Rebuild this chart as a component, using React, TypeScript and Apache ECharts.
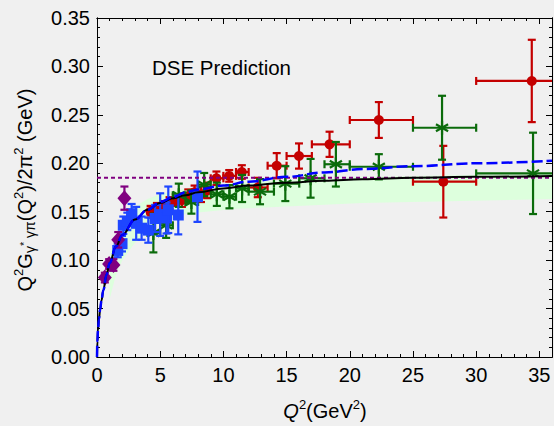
import React, { useEffect, useRef } from "react";
import * as echarts from "echarts";

const FONT = "'Liberation Sans', Arial, Helvetica, sans-serif";

// Axis ranges / ticks
const xMin = 0, xMax = 36, xMajor = 5, xMinor = 1;
const yMin = 0, yMax = 0.35, yMajor = 0.05, yMinor = 0.01;

// DSE prediction (black solid)
const dseQ2 = [0, 0.03, 0.08, 0.15, 0.25, 0.35, 0.5, 0.75, 1, 1.5, 2, 3, 4, 5, 6, 7, 8, 10, 12, 15, 18, 21, 25, 30, 36];
const dseVal = [0, 0.016, 0.028, 0.039, 0.049, 0.058, 0.069, 0.085, 0.097, 0.114, 0.126, 0.142, 0.152, 0.159, 0.164, 0.167, 0.170, 0.174, 0.177, 0.180, 0.182, 0.1835, 0.185, 0.186, 0.187];

// Alternative curve (blue dashed)
const altQ2 = [0, 0.03, 0.08, 0.15, 0.25, 0.35, 0.5, 0.75, 1, 1.5, 2, 3, 4, 5, 6, 7, 8, 10, 12, 15, 18, 21, 25, 30, 36];
const altVal = [0, 0.016, 0.028, 0.039, 0.049, 0.058, 0.069, 0.085, 0.097, 0.114, 0.126, 0.142, 0.152, 0.160, 0.165, 0.170, 0.173, 0.177, 0.181, 0.186, 0.1905, 0.194, 0.197, 0.200, 0.2027];

// Asymptotic limit (purple dotted)
const limitQ2 = [0, 36];
const limitVal = [0.185, 0.185];

// Light green band
const bandQ2 = [1.0, 1.5, 2, 3, 4, 5, 7, 11, 21, 36];
const bandLow = [0.060, 0.085, 0.100, 0.118, 0.130, 0.138, 0.148, 0.153, 0.159, 0.163];
const bandHigh = [0.105, 0.125, 0.140, 0.155, 0.163, 0.168, 0.174, 0.180, 0.186, 0.189];

// CELLO (purple diamonds)
const celloQ2 = [0.62, 0.96, 1.30, 1.68, 2.17];
const celloVal = [0.082, 0.096, 0.095, 0.121, 0.164];
const celloErr = [0.005, 0.005, 0.006, 0.008, 0.012];

// CLEO (blue squares)
const cleoQ2 = [1.64, 1.98, 2.08, 2.40, 2.74, 3.10, 3.53, 4.06, 4.60, 5.00, 5.50, 5.64, 6.43, 7.95];
const cleoVal = [0.110, 0.117, 0.136, 0.140, 0.148, 0.138, 0.133, 0.131, 0.143, 0.147, 0.1435, 0.152, 0.1466, 0.1655];
const cleoErr = [0.007, 0.008, 0.009, 0.009, 0.010, 0.017, 0.012, 0.013, 0.014, 0.022, 0.016, 0.024, 0.020, 0.026];

// BaBar (red circles)
const babarQ2 = [4.24, 4.74, 5.23, 5.74, 6.23, 6.72, 7.22, 7.72, 8.23, 8.72, 9.45, 10.46, 11.46, 12.72, 14.22, 15.98, 18.40, 22.30, 27.40, 34.40];
const babarVal = [0.150, 0.153, 0.155, 0.159, 0.162, 0.162, 0.166, 0.170, 0.168, 0.172, 0.1845, 0.187, 0.191, 0.175, 0.1975, 0.2075, 0.2196, 0.2447, 0.181, 0.285];
const babarQ2Lo = [4.0, 4.5, 5.0, 5.5, 6.0, 6.5, 7.0, 7.5, 8.0, 8.5, 9, 10, 11, 12, 13.5, 15, 17, 20, 25, 30];
const babarQ2Hi = [4.5, 5.0, 5.5, 6.0, 6.5, 7.0, 7.5, 8.0, 8.5, 9.0, 10, 11, 12, 13.5, 15, 17, 20, 25, 30, 40];
const babarErr = [0.006, 0.006, 0.006, 0.006, 0.006, 0.007, 0.007, 0.007, 0.008, 0.008, 0.007, 0.006, 0.007, 0.010, 0.013, 0.013, 0.013, 0.0185, 0.037, 0.0425];

// Belle (green stars)
const belleQ2 = [4.46, 5.47, 6.47, 7.47, 8.48, 9.48, 10.48, 11.48, 12.9, 14.9, 16.9, 18.9, 22.3, 27.3, 34.5];
const belleVal = [0.128, 0.136, 0.167, 0.160, 0.178, 0.168, 0.1655, 0.174, 0.1707, 0.179, 0.1845, 0.199, 0.1964, 0.2367, 0.1896];
const belleQ2Lo = [4, 5, 6, 7, 8, 9, 10, 11, 12, 14, 16, 18, 20, 25, 30];
const belleQ2Hi = [5, 6, 7, 8, 9, 10, 11, 12, 14, 16, 18, 20, 25, 30, 40];
const belleErr = [0.020, 0.013, 0.012, 0.012, 0.012, 0.012, 0.012, 0.014, 0.013, 0.018, 0.020, 0.023, 0.013, 0.033, 0.042];

const RED = "#c40000";
const GREEN = "#0b6b0b";
const BLUE = "#1e46ff";
const PURPLE = "#800080";

type Marker = "circle" | "square" | "diamond" | "star";

function errSeries(
  name: string,
  xs: number[],
  ys: number[],
  xlo: number[] | null,
  xhi: number[] | null,
  errs: number[],
  color: string,
  marker: Marker,
  z: number
) {
  const data = xs.map((x, i) => [
    x,
    ys[i],
    xlo ? xlo[i] : x,
    xhi ? xhi[i] : x,
    ys[i] - errs[i],
    ys[i] + errs[i],
  ]);
  return {
    type: "custom",
    name,
    data,
    clip: true,
    z,
    xAxisIndex: 0,
    yAxisIndex: 0,
    encode: { x: 0, y: 1 },
    renderItem: (params: any, api: any) => {
      const x = api.value(0);
      const y = api.value(1);
      const c = api.coord([x, y]);
      const l = api.coord([api.value(2), y]);
      const r = api.coord([api.value(3), y]);
      const b = api.coord([x, api.value(4)]);
      const t = api.coord([x, api.value(5)]);
      const st = { stroke: color, lineWidth: 2.2, fill: "none" };
      const cap = 4;
      const children: any[] = [];
      children.push({ type: "line", shape: { x1: c[0], y1: b[1], x2: c[0], y2: t[1] }, style: st });
      children.push({ type: "line", shape: { x1: c[0] - cap, y1: b[1], x2: c[0] + cap, y2: b[1] }, style: st });
      children.push({ type: "line", shape: { x1: c[0] - cap, y1: t[1], x2: c[0] + cap, y2: t[1] }, style: st });
      if (r[0] - l[0] > 1) {
        children.push({ type: "line", shape: { x1: l[0], y1: c[1], x2: r[0], y2: c[1] }, style: st });
        children.push({ type: "line", shape: { x1: l[0], y1: c[1] - cap, x2: l[0], y2: c[1] + cap }, style: st });
        children.push({ type: "line", shape: { x1: r[0], y1: c[1] - cap, x2: r[0], y2: c[1] + cap }, style: st });
      }
      if (marker === "circle") {
        children.push({ type: "circle", shape: { cx: c[0], cy: c[1], r: 5 }, style: { fill: color } });
      } else if (marker === "square") {
        children.push({ type: "rect", shape: { x: c[0] - 5.5, y: c[1] - 5.5, width: 11, height: 11 }, style: { fill: color } });
      } else if (marker === "diamond") {
        children.push({
          type: "polygon",
          shape: { points: [[c[0], c[1] - 8], [c[0] + 7, c[1]], [c[0], c[1] + 8], [c[0] - 7, c[1]]] },
          style: { fill: color },
        });
      } else {
        const a = 7;
        const angs = [Math.PI / 2, Math.PI / 6, -Math.PI / 6];
        angs.forEach((ang) => {
          const dx = Math.cos(ang) * a;
          const dy = Math.sin(ang) * a;
          children.push({
            type: "line",
            shape: { x1: c[0] - dx, y1: c[1] - dy, x2: c[0] + dx, y2: c[1] + dy },
            style: { stroke: color, lineWidth: 2.2 },
          });
        });
      }
      return { type: "group", children };
    },
  };
}

function makeAxis(kind: "x" | "y", position: string, interval: number, tickLen: number, showLabel: boolean) {
  const isX = kind === "x";
  return {
    type: "value",
    min: isX ? xMin : yMin,
    max: isX ? xMax : yMax,
    interval,
    position,
    axisLine: { show: true, onZero: false, lineStyle: { color: "#000", width: 1 } },
    axisTick: { show: true, inside: true, length: tickLen, lineStyle: { color: "#000", width: 1 } },
    axisLabel: {
      show: showLabel,
      margin: isX ? 8 : 7,
      color: "#000",
      fontSize: 20,
      fontFamily: FONT,
      formatter: isX
        ? (v: number) => (Math.abs(v % 5) < 1e-9 ? String(v) : "")
        : (v: number) => v.toFixed(2),
    },
    splitLine: { show: false },
    minorTick: { show: false },
  };
}

const tok = (size: number, extra: any = {}) => ({
  fontSize: size,
  fontFamily: FONT,
  fill: "#000",
  color: "#000",
  verticalAlign: "middle",
  lineHeight: 30,
  ...extra,
});

export default function App() {
  const ref = useRef<HTMLDivElement>(null);
  useEffect(() => {
    if (!ref.current) return;
    const chart = echarts.init(ref.current, undefined, { renderer: "svg" });
    const option: any = {
      animation: false,
      backgroundColor: "#f0f0f0",
      grid: { left: 97, right: 2, top: 18, bottom: 69, containLabel: false, outerBoundsMode: "none" },
      xAxis: [
        makeAxis("x", "bottom", xMajor, 6, true),
        makeAxis("x", "bottom", xMinor, 3, false),
        makeAxis("x", "top", xMajor, 6, false),
        makeAxis("x", "top", xMinor, 3, false),
      ],
      yAxis: [
        makeAxis("y", "left", yMajor, 6, true),
        makeAxis("y", "left", yMinor, 3, false),
        makeAxis("y", "right", yMajor, 6, false),
        makeAxis("y", "right", yMinor, 3, false),
      ],
      series: [
        {
          type: "custom",
          name: "band",
          z: 1,
          xAxisIndex: 0,
          yAxisIndex: 0,
          data: [[bandQ2[0], bandLow[0]]],
          encode: { x: 0, y: 1 },
          renderItem: (params: any, api: any) => {
            const pts: number[][] = [];
            bandQ2.forEach((x, i) => pts.push(api.coord([x, bandHigh[i]])));
            for (let i = bandQ2.length - 1; i >= 0; i--) pts.push(api.coord([bandQ2[i], bandLow[i]]));
            return { type: "polygon", shape: { points: pts }, style: { fill: "#ddffdd" } };
          },
        },
        errSeries("BaBar", babarQ2, babarVal, babarQ2Lo, babarQ2Hi, babarErr, RED, "circle", 2),
        errSeries("Belle", belleQ2, belleVal, belleQ2Lo, belleQ2Hi, belleErr, GREEN, "star", 3),
        errSeries("CLEO", cleoQ2, cleoVal, null, null, cleoErr, BLUE, "square", 4),
        errSeries("CELLO", celloQ2, celloVal, null, null, celloErr, PURPLE, "diamond", 5),
        {
          type: "line",
          name: "limit",
          z: 6,
          data: limitQ2.map((x, i) => [x, limitVal[i]]),
          showSymbol: false,
          symbol: "none",
          lineStyle: { color: PURPLE, width: 2, type: [4, 3] },
        },
        {
          type: "line",
          name: "DSE",
          z: 7,
          data: dseQ2.map((x, i) => [x, dseVal[i]]),
          showSymbol: false,
          symbol: "none",
          smooth: 0.4,
          smoothMonotone: "x",
          lineStyle: { color: "#000", width: 2 },
        },
        {
          type: "line",
          name: "alt",
          z: 8,
          data: altQ2.map((x, i) => [x, altVal[i]]),
          showSymbol: false,
          symbol: "none",
          smooth: 0.4,
          smoothMonotone: "x",
          lineStyle: { color: "#0000ff", width: 2.5, type: [11, 4] },
        },
      ],
      graphic: [
        {
          type: "text",
          x: 152,
          y: 67,
          style: {
            text: "DSE Prediction",
            fontSize: 20.5,
            fontFamily: FONT,
            fill: "#000",
            verticalAlign: "middle",
            textVerticalAlign: "middle",
          },
        },
        {
          type: "text",
          x: 325,
          y: 411,
          style: {
            text: "{qi|Q}{sup|2}{n|(GeV}{sup|2}{n|)}",
            align: "center",
            textAlign: "center",
            verticalAlign: "middle",
            textVerticalAlign: "middle",
            rich: {
              qi: tok(20, { fontStyle: "italic" }),
              n: tok(20),
              sup: tok(13, { padding: [0, 0, 14, 0] }),
            },
          },
        },
        {
          type: "text",
          x: 25,
          y: 190,
          rotation: Math.PI / 2,
          style: {
            text:
              "{n|Q}{sup|2}{n|G}{sub|γ}{ss|*}{sub| γπ}{n|(Q}{sup|2}{n|)/2π}{sup|2}{n| (GeV)}",
            align: "center",
            textAlign: "center",
            verticalAlign: "middle",
            textVerticalAlign: "middle",
            rich: {
              n: tok(20),
              sup: tok(13, { padding: [0, 0, 14, 0] }),
              sub: tok(14, { padding: [10, 0, 0, 0] }),
              ss: tok(11, { padding: [0, 0, 2, 0] }),
            },
          },
        },
      ],
    };
    chart.setOption(option);
    return () => chart.dispose();
  }, []);
  return (
    <div
      ref={ref}
      style={{ position: "absolute", left: 0, top: 0, width: 554, height: 426 }}
    />
  );
}
